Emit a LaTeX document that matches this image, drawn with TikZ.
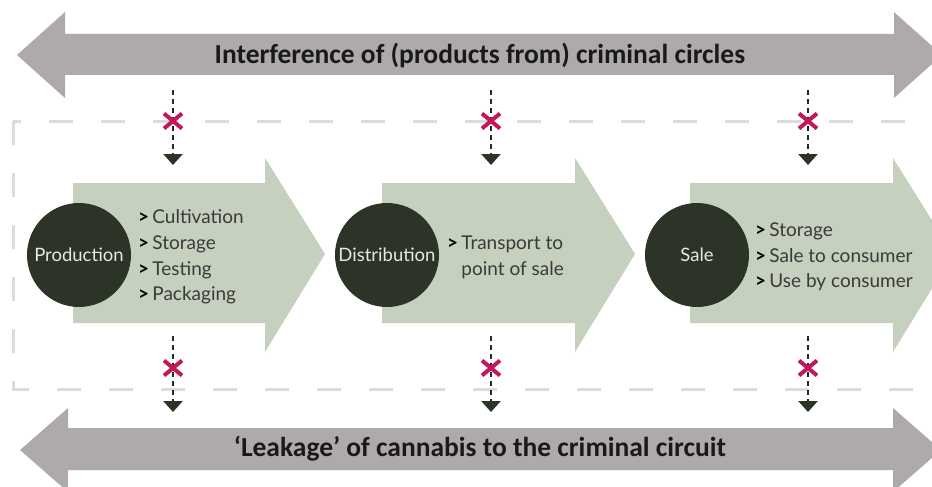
\documentclass[tikz,border=0pt]{standalone}
\usepackage{fontspec}
\setmainfont{Lato}
\newfontfamily\bandfont{Carlito}
\usetikzlibrary{arrows.meta,shapes.misc}
\definecolor{bandgray}{HTML}{AEAAA9}
\definecolor{sage}{HTML}{C6D0BF}
\definecolor{stagedark}{HTML}{2C3428}
\definecolor{stagetext}{HTML}{E4EAE0}
\definecolor{listtext}{HTML}{3A3A3A}
\definecolor{blockred}{HTML}{C2185B}
\definecolor{framegray}{HTML}{DCDCDC}
\newcommand{\chev}{\textcolor{black}{\textbf{>}}\,}

\begin{document}
\begin{tikzpicture}[x=1pt,y=-1pt,
        bandlabel/.style={font=\bandfont\bfseries\fontsize{27.5}{27.5}\selectfont, text=black!90},
        stage/.style={circle, fill=stagedark, text=stagetext, minimum size=104pt, inner sep=0pt,
                      font=\fontsize{18.5}{18.5}\selectfont},
        stagelist/.style={anchor=west, align=left, text=listtext, inner sep=0pt,
                          font=\fontsize{19}{25.7}\selectfont},
        leak/.style={draw=black!85, line width=2.6pt, dash pattern=on 5pt off 4pt,
                     -{Triangle[width=19pt,length=11pt,fill=stagedark,color=stagedark]}},
        block/.style={cross out, draw=blockred, line width=4pt, minimum width=14pt,
                      minimum height=11pt, inner sep=0pt}]
    \useasboundingbox (0,0) rectangle (932,487);

    \draw[framegray, line width=3pt, dash pattern=on 24pt off 28pt] (13,121) rectangle (945,389);

    \fill[bandgray] (17,55) -- (65,12) -- (65,34) -- (894,34) -- (894,12) -- (942,55)
        -- (894,98) -- (894,75) -- (65,75) -- (65,98) -- cycle;
    \fill[bandgray] (20,450) -- (68,408) -- (68,428) -- (893,428) -- (893,408) -- (941,450)
        -- (893,492) -- (893,470) -- (68,470) -- (68,492) -- cycle;
    \node[bandlabel] (inflow) at (480,55) {Interference of (products from) criminal circles};
    \node[bandlabel] (outflow) at (480,449) {‘Leakage’ of cannabis to the criminal circuit};

    \fill[sage] (73,183) -- (265,183) -- (265,158) -- (325,254) -- (265,352) -- (265,323) -- (73,323) -- cycle;
    \fill[sage] (382,183) -- (575,183) -- (575,158) -- (635,254) -- (575,352) -- (575,323) -- (382,323) -- cycle;
    \fill[sage] (690,183) -- (893,183) -- (893,158) -- (953,254) -- (893,352) -- (893,323) -- (690,323) -- cycle;

    \node[stage] (prod) at (79,255)  {Production};
    \node[stage] (dist) at (387,255) {Distribution};
    \node[stage] (sale) at (697,255) {Sale};

    \node[stagelist] (prodlist) at (138,257) {\chev Cultivation\\ \chev Storage\\ \chev Testing\\ \chev Packaging};
    \node[stagelist] (distlist) at (447,257) {\chev Transport to\\ \phantom{\chev}point of sale};
    \node[stagelist] (salelist) at (755,257) {\chev Storage\\ \chev Sale to consumer\\ \chev Use by consumer};

    \coordinate (in1) at (173,90);   \coordinate (in1end) at (173,165);
    \coordinate (in2) at (491,90);   \coordinate (in2end) at (491,165);
    \coordinate (in3) at (808,90);   \coordinate (in3end) at (808,165);
    \coordinate (out1) at (173,336); \coordinate (out1end) at (173,412);
    \coordinate (out2) at (491,336); \coordinate (out2end) at (491,412);
    \coordinate (out3) at (808,336); \coordinate (out3end) at (808,412);

    \draw[leak] (in1) -- (in1end);
    \draw[leak] (in2) -- (in2end);
    \draw[leak] (in3) -- (in3end);
    \draw[leak] (out1) -- (out1end);
    \draw[leak] (out2) -- (out2end);
    \draw[leak] (out3) -- (out3end);

    \node[block] (in1x) at (173,121) {};
    \node[block] (in2x) at (491,121) {};
    \node[block] (in3x) at (808,121) {};
    \node[block] (out1x) at (173,368) {};
    \node[block] (out2x) at (491,368) {};
    \node[block] (out3x) at (808,368) {};
\end{tikzpicture}
\end{document}
